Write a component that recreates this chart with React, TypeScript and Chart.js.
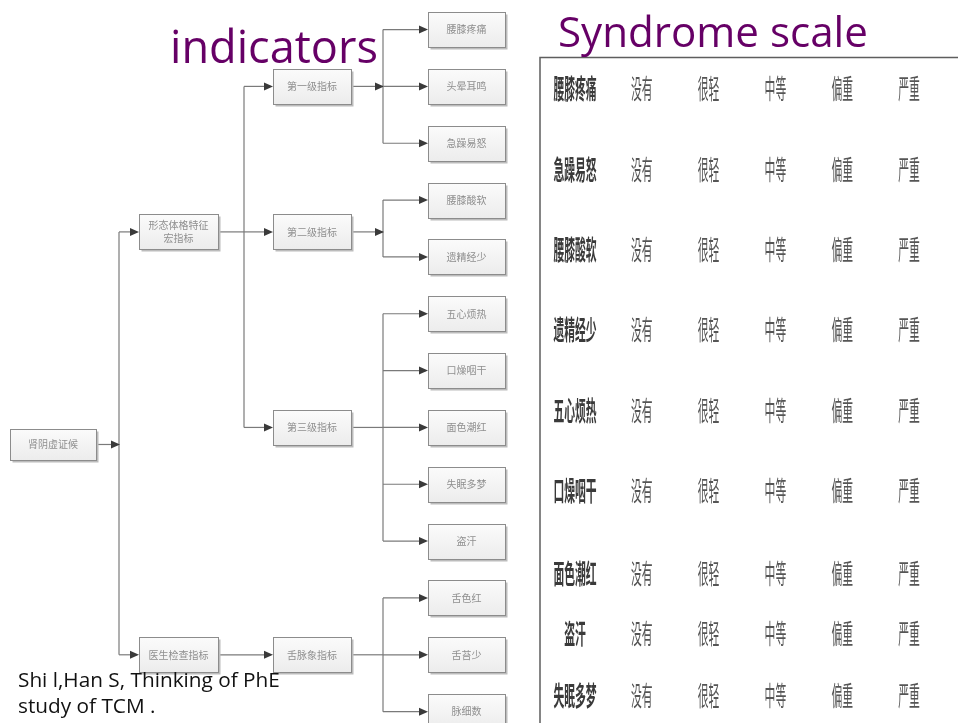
import React, { useEffect, useRef } from 'react';
import { Chart, registerables } from 'chart.js';

Chart.register(...registerables);

// ---------- text ----------
const TITLE_LEFT = 'indicators';
const TITLE_RIGHT = 'Syndrome scale';
const CITATION = ['Shi l,Han S, Thinking of PhE', 'study of TCM .'];

// ---------- tree data ----------
const NODE_LABELS = [
  '肾阴虚证候',
  '形态体格特征\n宏指标',
  '医生检查指标',
  '第一级指标',
  '第二级指标',
  '第三级指标',
  '舌脉象指标',
  '腰膝疼痛',
  '头晕耳鸣',
  '急躁易怒',
  '腰膝酸软',
  '遗精经少',
  '五心烦热',
  '口燥咽干',
  '面色潮红',
  '失眠多梦',
  '盗汗',
  '舌色红',
  '舌苔少',
  '脉细数',
];
const NODE_LEVELS = [0, 1, 1, 2, 2, 2, 2, 3, 3, 3, 3, 3, 3, 3, 3, 3, 3, 3, 3, 3];
const NODE_PARENTS = [-1, 0, 0, 1, 1, 1, 2, 3, 3, 3, 4, 4, 5, 5, 5, 5, 5, 6, 6, 6];
const NODE_ROWS = [7.3, 3.56, 11, 1, 3.56, 7, 11, 0, 1, 2, 3, 4, 5, 6, 7, 8, 9, 10, 11, 12];

// ---------- table data ----------
const SYMPTOMS = ['腰膝疼痛', '急躁易怒', '腰膝酸软', '遗精经少', '五心烦热', '口燥咽干', '面色潮红', '盗汗', '失眠多梦'];
const SEVERITY = ['没有', '很轻', '中等', '偏重', '严重'];

// ---------- layout (not data) ----------
const W = 958;
const H = 723;
const LEVEL_X = [53, 178.5, 312, 466.5];
const BOX_W = [86, 79, 78, 77];
const BOX_H = [31, 35, 35, 35];
const JUNCTION_X = [119, 244, 383];
const JUNCTION_ARROW_NODES = [0, 3, 4];
const TABLE_ROW_POS = [0, 1, 2, 3, 4, 5, 6.03, 6.78, 7.55];
const PURPLE = '#660066';
const TEXT_FONT = '"Open Sans", "DejaVu Sans", sans-serif';
const CJK_FONT = '"Noto Sans CJK SC", sans-serif';

function arrow(ctx: CanvasRenderingContext2D, x: number, y: number) {
  ctx.beginPath();
  ctx.moveTo(x, y);
  ctx.lineTo(x - 9, y - 4);
  ctx.lineTo(x - 9, y + 4);
  ctx.closePath();
  ctx.fillStyle = '#3a3a3a';
  ctx.fill();
}

function line(ctx: CanvasRenderingContext2D, x1: number, y1: number, x2: number, y2: number) {
  ctx.beginPath();
  ctx.moveTo(x1, y1);
  ctx.lineTo(x2, y2);
  ctx.stroke();
}

function fitSize(ctx: CanvasRenderingContext2D, text: string, family: string, target: number) {
  const base = 40;
  ctx.font = `${base}px ${family}`;
  const w = ctx.measureText(text).width;
  return (base * target) / w;
}

const diagramPlugin = {
  id: 'diagram',
  afterDatasetsDraw(chart: any) {
    const ctx: CanvasRenderingContext2D = chart.ctx;
    const nodes = chart.getDatasetMeta(0).data.map((e: any) => ({ x: e.x, y: e.y }));
    ctx.save();

    // ----- connectors -----
    ctx.strokeStyle = '#7a7a7a';
    ctx.lineWidth = 1.2;
    NODE_LABELS.forEach((_, p) => {
      const kids = NODE_PARENTS.map((q, i) => (q === p ? i : -1)).filter((i) => i >= 0);
      if (!kids.length) return;
      const lvl = NODE_LEVELS[p];
      const px = nodes[p].x + BOX_W[lvl] / 2;
      const py = nodes[p].y;
      if (kids.length === 1 && Math.abs(nodes[kids[0]].y - py) < 1) {
        const k = kids[0];
        const kx = nodes[k].x - BOX_W[NODE_LEVELS[k]] / 2;
        line(ctx, px, py, kx - 2, py);
        arrow(ctx, kx, py);
        return;
      }
      const jx = JUNCTION_X[lvl];
      const ys = kids.map((k) => nodes[k].y).concat([py]);
      line(ctx, px, py, jx, py);
      line(ctx, jx, Math.min(...ys), jx, Math.max(...ys));
      if (JUNCTION_ARROW_NODES.includes(p)) arrow(ctx, jx + 1, py);
      kids.forEach((k) => {
        const kx = nodes[k].x - BOX_W[NODE_LEVELS[k]] / 2;
        line(ctx, jx, nodes[k].y, kx - 2, nodes[k].y);
        arrow(ctx, kx, nodes[k].y);
      });
    });

    // ----- boxes -----
    NODE_LABELS.forEach((label, i) => {
      const lvl = NODE_LEVELS[i];
      const w = BOX_W[lvl];
      const h = BOX_H[lvl];
      const x0 = Math.round(nodes[i].x - w / 2) + 0.5;
      const y0 = Math.round(nodes[i].y - h / 2) + 0.5;
      ctx.fillStyle = '#bcbcbc';
      ctx.fillRect(x0 + 2, y0 + 2, w, h);
      const g = ctx.createLinearGradient(0, y0, 0, y0 + h);
      g.addColorStop(0, '#fbfbfb');
      g.addColorStop(1, '#ececec');
      ctx.fillStyle = g;
      ctx.fillRect(x0, y0, w, h);
      ctx.strokeStyle = '#8c8c8c';
      ctx.lineWidth = 1;
      ctx.strokeRect(x0, y0, w, h);
      ctx.filter = 'blur(0.45px)';
      ctx.fillStyle = '#8f8f8f';
      ctx.font = `10px ${CJK_FONT}`;
      ctx.textAlign = 'center';
      ctx.textBaseline = 'middle';
      const lines = label.split('\n');
      lines.forEach((t, j) => {
        ctx.fillText(t, nodes[i].x, nodes[i].y + (j - (lines.length - 1) / 2) * 13);
      });
      ctx.filter = 'none';
    });

    // ----- table frame -----
    ctx.strokeStyle = '#5e5e5e';
    ctx.lineWidth = 1.5;
    ctx.beginPath();
    ctx.moveTo(W, 57.5);
    ctx.lineTo(540, 57.5);
    ctx.lineTo(540, H);
    ctx.stroke();

    // ----- table cells -----
    const cells = chart.getDatasetMeta(1).data;
    const ncol = SEVERITY.length + 1;
    ctx.filter = 'blur(0.5px)';
    cells.forEach((e: any, idx: number) => {
      const r = Math.floor(idx / ncol);
      const c = idx % ncol;
      const text = c === 0 ? SYMPTOMS[r] : SEVERITY[c - 1];
      ctx.save();
      ctx.translate(e.x, e.y);
      ctx.scale(0.4, 1);
      ctx.font = `${c === 0 ? 'bold ' : ''}27px ${CJK_FONT}`;
      ctx.fillStyle = c === 0 ? '#3a3a3a' : '#555555';
      ctx.textAlign = 'center';
      ctx.textBaseline = 'middle';
      ctx.fillText(text, 0, 1);
      ctx.restore();
    });
    ctx.filter = 'none';

    // ----- titles -----
    ctx.fillStyle = PURPLE;
    ctx.textAlign = 'left';
    ctx.textBaseline = 'alphabetic';
    let s = fitSize(ctx, TITLE_LEFT, TEXT_FONT, 208);
    ctx.font = `${s}px ${TEXT_FONT}`;
    ctx.fillText(TITLE_LEFT, 170, 63);
    s = fitSize(ctx, TITLE_RIGHT, TEXT_FONT, 310);
    ctx.font = `${s}px ${TEXT_FONT}`;
    ctx.fillText(TITLE_RIGHT, 558, 47);

    // ----- citation -----
    ctx.fillStyle = '#111111';
    s = fitSize(ctx, CITATION[0], TEXT_FONT, 262);
    ctx.font = `${s}px ${TEXT_FONT}`;
    ctx.fillText(CITATION[0], 18, 687);
    ctx.fillText(CITATION[1], 18, 713);

    ctx.restore();
  },
};

export default function App() {
  const ref = useRef<HTMLCanvasElement>(null);
  useEffect(() => {
    document.body.style.margin = '0';
    const nodeData = NODE_ROWS.map((row, i) => ({ x: LEVEL_X[NODE_LEVELS[i]], y: row }));
    const cellData: { x: number; y: number }[] = [];
    SYMPTOMS.forEach((_, r) => {
      for (let c = 0; c <= SEVERITY.length; c++) cellData.push({ x: c, y: TABLE_ROW_POS[r] });
    });
    const chart = new Chart(ref.current as HTMLCanvasElement, {
      type: 'scatter',
      data: {
        datasets: [
          { label: 'tree', data: nodeData, xAxisID: 'tx', yAxisID: 'ty', pointRadius: 0, pointHoverRadius: 0 },
          { label: 'scale', data: cellData, xAxisID: 'cx', yAxisID: 'cy', pointRadius: 0, pointHoverRadius: 0 },
        ],
      },
      options: {
        responsive: false,
        animation: false,
        events: [],
        layout: { padding: 0 },
        plugins: { legend: { display: false }, tooltip: { enabled: false }, title: { display: false } },
        scales: {
          x: { display: false },
          y: { display: false },
          tx: { type: 'linear', display: false, min: 0, max: W },
          ty: { type: 'linear', display: false, min: -0.52, max: 12.2, reverse: true },
          cx: { type: 'linear', display: false, min: -575 / 66.8, max: (W - 575) / 66.8 },
          cy: { type: 'linear', display: false, min: -88 / 80.4, max: (H - 88) / 80.4, reverse: true },
        },
      },
      plugins: [diagramPlugin],
    } as any);
    return () => chart.destroy();
  }, []);
  return (
    <div style={{ width: W, height: H, background: '#ffffff' }}>
      <canvas ref={ref} width={W} height={H} style={{ display: 'block' }} />
    </div>
  );
}
